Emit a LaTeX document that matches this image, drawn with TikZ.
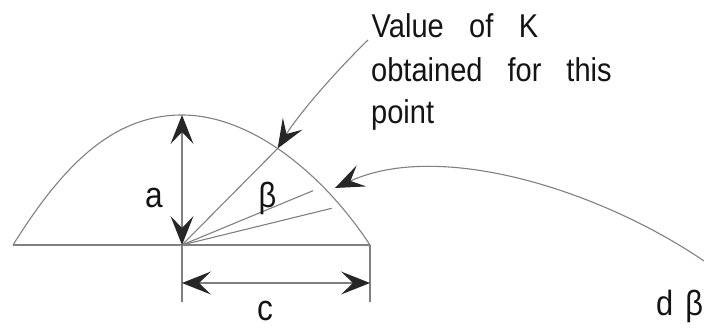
\documentclass[tikz,border=0pt]{standalone}
\usepackage{fontspec}
\setmainfont{Liberation Sans}[FakeStretch=0.88]
\usetikzlibrary{arrows.meta}
\begin{document}
\begin{tikzpicture}[x=1pt,y=-1pt,
  gline/.style={draw=black!50, line width=1.1pt},
  head/.style={-{Stealth[length=29pt,width=23pt,inset=12pt,line width=1.2pt,color=black!85]}},
  heads/.style={{Stealth[length=29pt,width=23pt,inset=12pt,line width=1.2pt,color=black!85]}-{Stealth[length=29pt,width=23pt,inset=12pt,line width=1.2pt,color=black!85]}},
  txt/.style={inner sep=0pt, font=\fontsize{33}{40}\selectfont, text=black!92},
  big/.style={inner sep=0pt, font=\fontsize{36}{40}\selectfont, text=black!92}]
\useasboundingbox (0,0) rectangle (704,327);
% key points
\coordinate (O) at (182,245);
\coordinate (T) at (182,115);
\coordinate (L) at (13,245);
\coordinate (R) at (370,245);
\coordinate (Ob) at (182,302);
\coordinate (Rb) at (370,302);
\coordinate (Ca) at (182,283);
\coordinate (Cb) at (370,283);
\coordinate (B1) at (313,190.7);
\coordinate (B2) at (331.7,208.3);
\coordinate (Ks) at (368,40);
\coordinate (Ds) at (704,261);
\coordinate (Dt) at (335,188);
% outline
\draw[gline] (L) .. controls (60,170) and (110,115) .. (T)
  .. controls (250,115) and (322,172) .. (R) coordinate[pos=0.47] (K);
\draw[gline] (L) -- (R);
% rays
\draw[gline] (O) -- (K);
\draw[gline] (O) -- (B1);
\draw[gline] (O) -- (B2);
% dimensions
\draw[gline, heads] (O) -- (T);
\draw[gline] (O) -- (Ob);
\draw[gline] (R) -- (Rb);
\draw[gline, heads] (Ca) -- (Cb);
% labels
\node[big] (la) at (154,197.5) {a};
\node[big] (lc) at (265,311) {c};
\node[txt, font=\fontsize{35}{40}\selectfont] (lb) at (267.5,198) {β};
\node[txt, anchor=base west] (t1) at (371.5,37.3) {\makebox[166.5pt][s]{Value of K}};
\node[txt, anchor=base west] (t2) at (371,81.5) {\makebox[240.5pt][s]{obtained for this}};
\node[txt, anchor=base west] (t3) at (371,123.5) {point};
\node[txt, font=\fontsize{35}{40}\selectfont, anchor=base west] (db) at (656,315) {d\kern12pt β};
% pointers
\draw[gline, head] (Ks) .. controls (335,72) and (298,115) .. (K);
\draw[gline, head] (Ds) .. controls (600,190) and (440,140) .. (Dt);
\end{tikzpicture}
\end{document}
